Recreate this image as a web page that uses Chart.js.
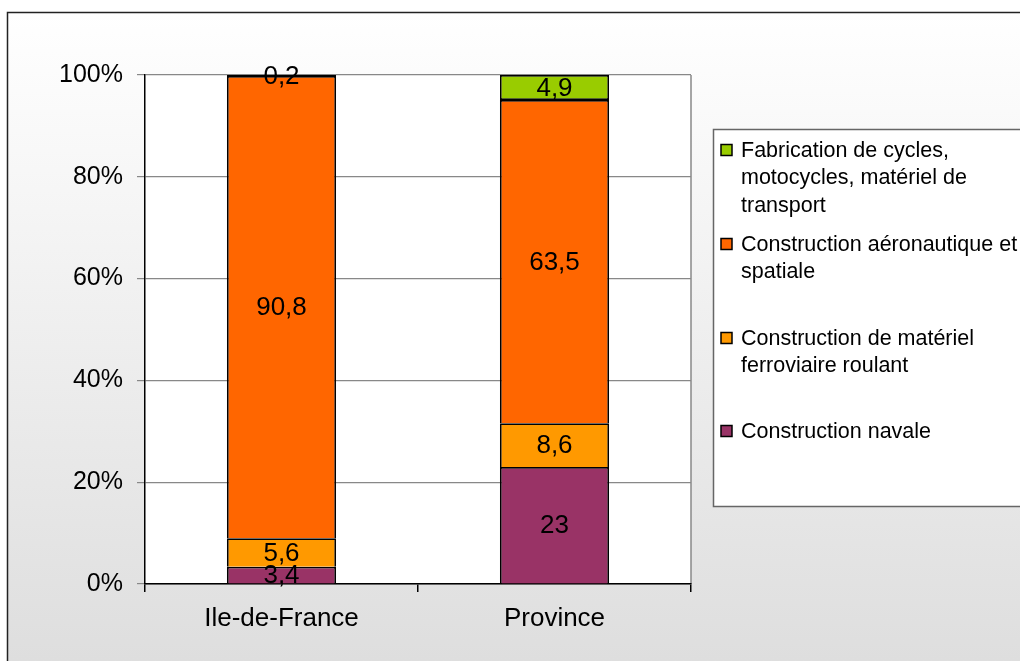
<!DOCTYPE html>
<html><head><meta charset="utf-8">
<script src="https://cdn.jsdelivr.net/npm/chart.js@4/dist/chart.umd.min.js"></script>
<style>html,body{margin:0;padding:0;background:#fff}canvas{display:block}</style>
</head><body>
<canvas id="c" width="1020" height="661"></canvas>
<script>
const categories = ['Ile-de-France', 'Province'];
const seriesNames = ['Construction navale', 'Construction de matériel ferroviaire roulant', 'Construction aéronautique et spatiale', 'Fabrication de cycles, motocycles, matériel de transport'];
const navale = [3.4, 23];
const ferroviaire = [5.6, 8.6];
const aeronautique = [90.8, 63.5];
const cycles = [0.2, 4.9];
const seriesColors = ['#993366', '#FF9900', '#FF6600', '#99CC00'];
// legend labels as displayed (wrapped), top to bottom
const legendLines = [
  ['Fabrication de cycles,', 'motocycles, matériel de', 'transport'],
  ['Construction aéronautique et', 'spatiale'],
  ['Construction de matériel', 'ferroviaire roulant'],
  ['Construction navale']
];
const legendColors = ['#99CC00', '#FF6600', '#FF9900', '#993366'];
const yTickStep = 20;

const FONT = "'Liberation Sans', Arial, sans-serif";

const bgPlugin = {
  id: 'bg',
  beforeDraw(chart) {
    const ctx = chart.ctx, a = chart.chartArea;
    ctx.save();
    ctx.fillStyle = '#fff';
    ctx.fillRect(0, 0, chart.width, chart.height);
    const g = ctx.createLinearGradient(0, 12, 0, chart.height);
    g.addColorStop(0, '#ffffff');
    g.addColorStop(1, '#dedede');
    ctx.fillStyle = g;
    ctx.fillRect(7, 12, chart.width - 7, chart.height - 12);
    ctx.strokeStyle = '#222';
    ctx.lineWidth = 1.5;
    ctx.beginPath();
    ctx.moveTo(7.5, chart.height + 2);
    ctx.lineTo(7.5, 12.5);
    ctx.lineTo(chart.width + 2, 12.5);
    ctx.stroke();
    ctx.fillStyle = '#fff';
    ctx.fillRect(a.left, a.top, a.right - a.left, a.bottom - a.top);
    ctx.strokeStyle = '#888';
    ctx.lineWidth = 1.5;
    ctx.beginPath();
    ctx.moveTo(a.right, a.top);
    ctx.lineTo(a.right, a.bottom);
    ctx.stroke();
    ctx.restore();
  }
};

const labelPlugin = {
  id: 'vals',
  afterDatasetsDraw(chart) {
    const ctx = chart.ctx;
    ctx.save();
    ctx.font = '26px ' + FONT;
    ctx.fillStyle = '#000';
    ctx.textAlign = 'center';
    ctx.textBaseline = 'middle';
    chart.data.datasets.forEach((ds, i) => {
      const meta = chart.getDatasetMeta(i);
      meta.data.forEach((el, j) => {
        const v = ds.data[j];
        const txt = String(v).replace('.', ',');
        ctx.fillText(txt, el.x, (el.y + el.base) / 2 + 1);
      });
    });
    ctx.restore();
  }
};

const legendPlugin = {
  id: 'customLegend',
  afterDraw(chart) {
    const ctx = chart.ctx;
    ctx.save();
    const bx = 713, by = 129, bw = 320, bh = 377;
    ctx.fillStyle = '#fff';
    ctx.fillRect(bx, by, bw, bh);
    ctx.strokeStyle = '#666';
    ctx.lineWidth = 1.5;
    ctx.strokeRect(bx + 0.5, by + 0.5, bw, bh);
    ctx.font = '21.5px ' + FONT;
    ctx.textAlign = 'left';
    ctx.textBaseline = 'middle';
    const starts = [150, 244, 338, 431];
    const lh = 27.5;
    legendLines.forEach((lines, i) => {
      const y0 = starts[i];
      ctx.fillStyle = legendColors[i];
      ctx.fillRect(721, y0 - 5.5, 11, 11);
      ctx.strokeStyle = '#000';
      ctx.lineWidth = 1.5;
      ctx.strokeRect(721, y0 - 5.5, 11, 11);
      ctx.fillStyle = '#000';
      lines.forEach((t, k) => ctx.fillText(t, 741, y0 + k * lh + 1));
    });
    ctx.restore();
  }
};

const seriesData = [navale, ferroviaire, aeronautique, cycles];

new Chart(document.getElementById('c'), {
  type: 'bar',
  data: {
    labels: categories,
    datasets: seriesData.map((d, i) => ({
      label: seriesNames[i],
      data: d,
      backgroundColor: seriesColors[i],
      borderColor: '#000',
      borderWidth: 1.8,
      borderSkipped: i === 3 ? false : 'bottom',
      barPercentage: 1,
      categoryPercentage: 0.4
    }))
  },
  options: {
    responsive: false,
    animation: false,
    devicePixelRatio: 1,
    layout: { padding: { top: 75, right: 329, left: 0, bottom: 0 } },
    plugins: { legend: { display: false }, tooltip: { enabled: false } },
    scales: {
      x: {
        stacked: true,
        grid: { offset: true, drawOnChartArea: false, drawTicks: true, tickLength: 8, color: '#000', lineWidth: 1.5 },
        border: { color: '#000', width: 1.5 },
        ticks: { color: '#000', font: { size: 26, family: FONT }, padding: 11, maxRotation: 0 },
        afterFit(s) { s.height = 77; }
      },
      y: {
        stacked: true,
        min: 0, max: 100,
        grid: { color: '#888', lineWidth: 1.2, tickLength: 8 },
        border: { color: '#000', width: 1.5 },
        ticks: { stepSize: yTickStep, color: '#000', font: { size: 25, family: FONT }, padding: 14, callback: v => v + '%' },
        afterFit(s) { s.width = 145; }
      }
    }
  },
  plugins: [bgPlugin, labelPlugin, legendPlugin]
});
</script>
</body></html>
